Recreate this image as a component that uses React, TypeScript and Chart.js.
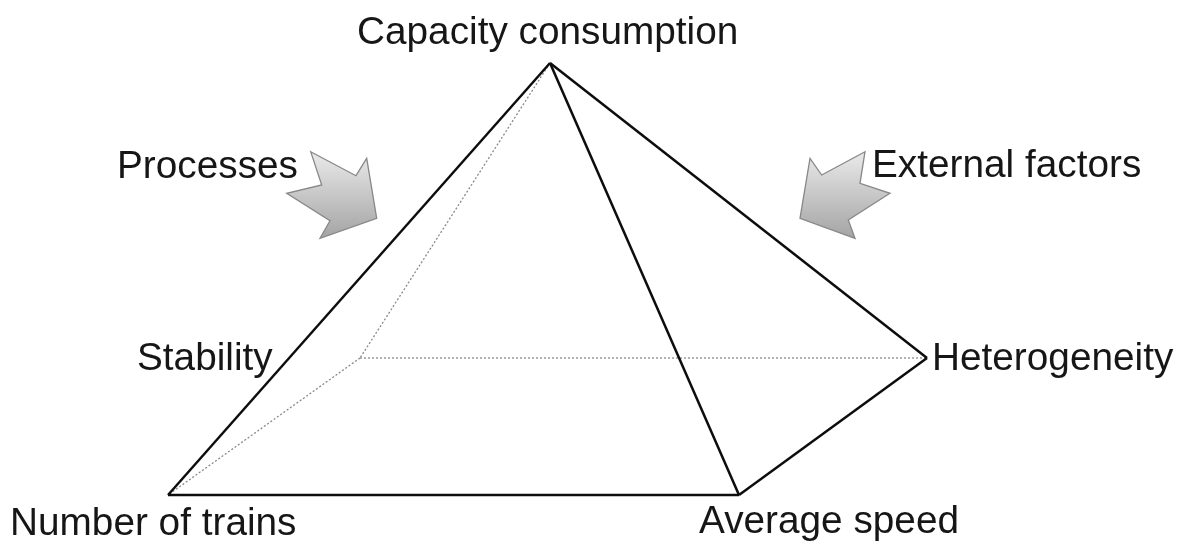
import React, { useEffect, useRef } from "react";
import { Chart, registerables } from "chart.js";

Chart.register(...registerables);

// Pyramid vertices (data space = picture space, y grows downward)
const vertexNames = ["Capacity consumption", "Number of trains", "Average speed", "Heterogeneity", "Stability"];
const vertexX = [550, 168, 739, 927, 360];
const vertexY = [63, 495, 495, 358, 358];

// Edges between vertices (indices into the vertex arrays)
const solidEdges = [[0, 1], [0, 2], [0, 3], [1, 2], [2, 3]];
const dottedEdges = [[0, 4], [4, 1], [4, 3]];

// Text labels: left ink edge and baseline
const labelTexts = ["Capacity consumption", "Processes", "External factors", "Stability", "Heterogeneity", "Number of trains", "Average speed"];
const labelX = [357, 117, 872, 137, 932, 10, 699];
const labelY = [44, 178, 177, 370, 370, 535, 533];

// Notched block arrows (outline points)
const arrowLeftX = [310.7, 356, 366.7, 376.7, 320, 330, 286.7, 321.7];
const arrowLeftY = [151.7, 175.7, 158.3, 218.3, 238.3, 220.7, 193.3, 185];
const arrowRightX = [865, 821.7, 810, 800, 855, 848.3, 890, 860];
const arrowRightY = [151.7, 175, 158.3, 218.3, 238.3, 220, 193.3, 183.3];

const overlayPlugin = {
  id: "overlay",
  afterDatasetsDraw(chart: any) {
    const { ctx, scales } = chart;
    const xs = scales.x;
    const ys = scales.y;
    const drawArrow = (ax: number[], ay: number[]) => {
      ctx.save();
      ctx.beginPath();
      ax.forEach((x, i) => {
        const px = xs.getPixelForValue(x);
        const py = ys.getPixelForValue(ay[i]);
        if (i === 0) ctx.moveTo(px, py);
        else ctx.lineTo(px, py);
      });
      ctx.closePath();
      const top = ys.getPixelForValue(Math.min(...ay));
      const bot = ys.getPixelForValue(Math.max(...ay));
      const g = ctx.createLinearGradient(0, top, 0, bot);
      g.addColorStop(0, "#eaeaea");
      g.addColorStop(1, "#a4a4a4");
      ctx.fillStyle = g;
      ctx.fill();
      ctx.lineWidth = 1.3;
      ctx.strokeStyle = "#888888";
      ctx.lineJoin = "miter";
      ctx.stroke();
      ctx.restore();
    };
    drawArrow(arrowLeftX, arrowLeftY);
    drawArrow(arrowRightX, arrowRightY);

    ctx.save();
    ctx.fillStyle = "#161616";
    ctx.font = "38px 'Liberation Sans', Arial, sans-serif";
    ctx.textAlign = "left";
    ctx.textBaseline = "alphabetic";
    labelTexts.forEach((t, i) => {
      const px = xs.getPixelForValue(labelX[i]);
      const py = ys.getPixelForValue(labelY[i]);
      ctx.save();
      ctx.translate(px, py);
      ctx.scale(1.02, 1);
      ctx.fillText(t, 0, 0);
      ctx.restore();
    });
    ctx.restore();
  },
};

export default function App() {
  const ref = useRef<HTMLCanvasElement>(null);
  useEffect(() => {
    if (!ref.current) return;
    const mk = (e: number[], solid: boolean) => ({
      label: solid ? "solid" : "dotted",
      data: [
        { x: vertexX[e[0]], y: vertexY[e[0]] },
        { x: vertexX[e[1]], y: vertexY[e[1]] },
      ],
      showLine: true,
      borderColor: solid ? "#0d0d0d" : "#8a8a8a",
      borderWidth: solid ? 2.5 : 1.3,
      borderDash: solid ? [] : [2, 2],
      pointRadius: 0,
      fill: false,
      order: solid ? 1 : 2,
    });
    const chart = new Chart(ref.current, {
      type: "scatter",
      data: {
        datasets: [...dottedEdges.map((e) => mk(e, false)), ...solidEdges.map((e) => mk(e, true))],
      },
      options: {
        animation: false,
        responsive: false,
        maintainAspectRatio: false,
        layout: { padding: 0 },
        plugins: { legend: { display: false }, tooltip: { enabled: false } },
        scales: {
          x: { type: "linear", min: 0, max: 1181, display: false },
          y: { type: "linear", min: 0, max: 545, reverse: true, display: false },
        },
      },
      plugins: [overlayPlugin],
    });
    return () => chart.destroy();
  }, []);
  return (
    <div style={{ position: "fixed", left: 0, top: 0, width: 1181, height: 545, background: "#fff" }}>
      <canvas ref={ref} width={1181} height={545} aria-label={vertexNames.join(", ")} />
    </div>
  );
}
